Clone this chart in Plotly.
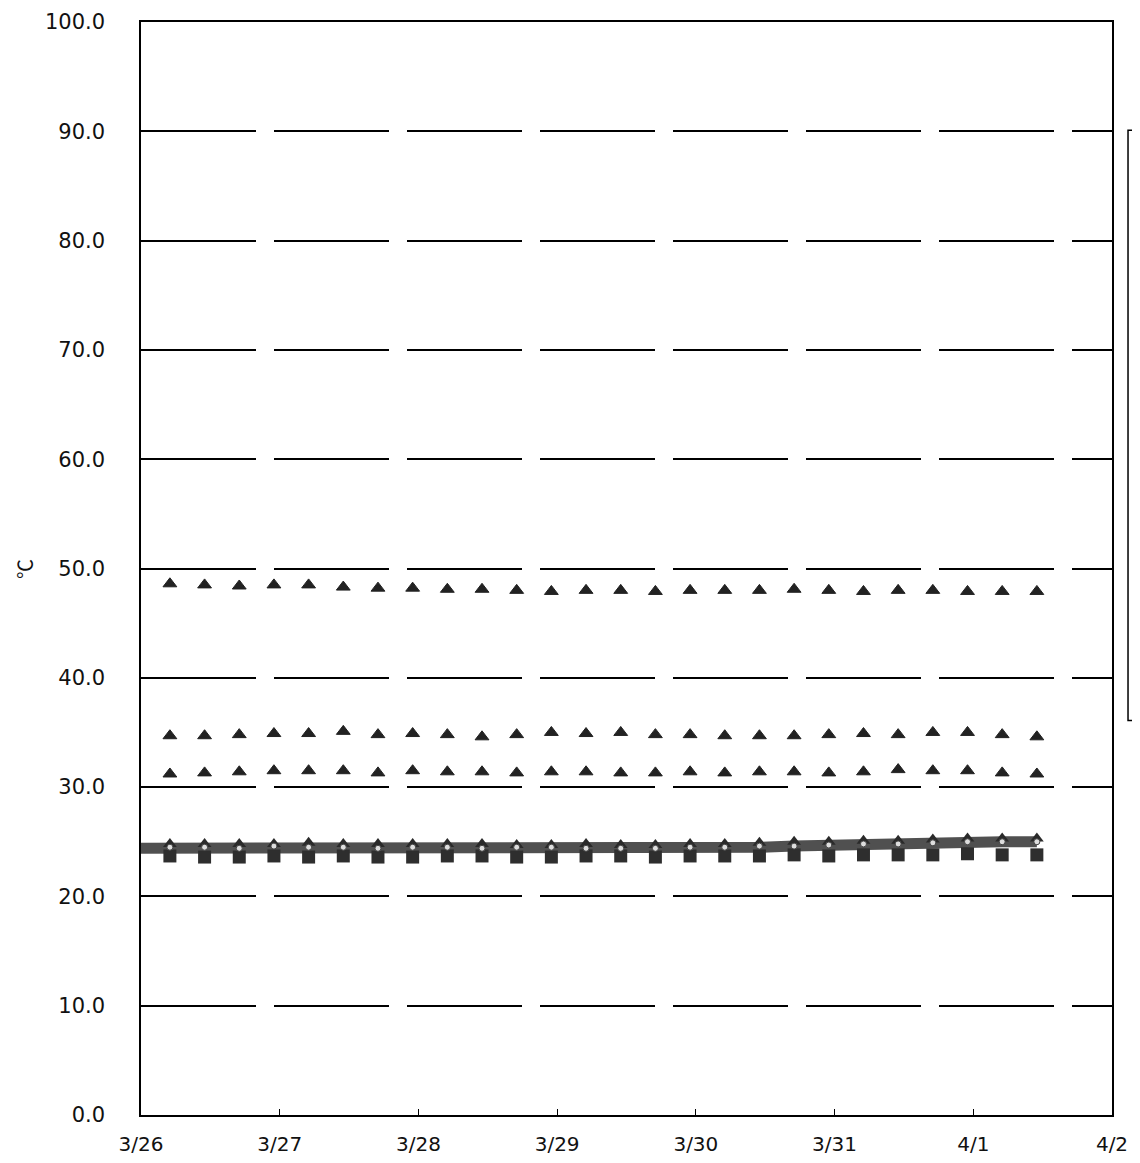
import plotly.graph_objects as go

# ---- data ----
times = [
    "2010-03-26 05:00", "2010-03-26 11:00", "2010-03-26 17:00", "2010-03-26 23:00",
    "2010-03-27 05:00", "2010-03-27 11:00", "2010-03-27 17:00", "2010-03-27 23:00",
    "2010-03-28 05:00", "2010-03-28 11:00", "2010-03-28 17:00", "2010-03-28 23:00",
    "2010-03-29 05:00", "2010-03-29 11:00", "2010-03-29 17:00", "2010-03-29 23:00",
    "2010-03-30 05:00", "2010-03-30 11:00", "2010-03-30 17:00", "2010-03-30 23:00",
    "2010-03-31 05:00", "2010-03-31 11:00", "2010-03-31 17:00", "2010-03-31 23:00",
    "2010-04-01 05:00", "2010-04-01 11:00",
]
line_times = ["2010-03-26 00:00"] + times

tri_high = [48.6, 48.5, 48.4, 48.5, 48.5, 48.3, 48.2, 48.2, 48.1, 48.1, 48.0, 47.9, 48.0,
            48.0, 47.9, 48.0, 48.0, 48.0, 48.1, 48.0, 47.9, 48.0, 48.0, 47.9, 47.9, 47.9]
tri_mid = [34.7, 34.7, 34.8, 34.9, 34.9, 35.1, 34.8, 34.9, 34.8, 34.6, 34.8, 35.0, 34.9,
           35.0, 34.8, 34.8, 34.7, 34.7, 34.7, 34.8, 34.9, 34.8, 35.0, 35.0, 34.8, 34.6]
tri_low = [31.2, 31.3, 31.4, 31.5, 31.5, 31.5, 31.3, 31.5, 31.4, 31.4, 31.3, 31.4, 31.4,
           31.3, 31.3, 31.4, 31.3, 31.4, 31.4, 31.3, 31.4, 31.6, 31.5, 31.5, 31.3, 31.2]
band_line = [24.4, 24.4, 24.5, 24.4, 24.5, 24.5, 24.4, 24.5, 24.4, 24.4, 24.5, 24.4, 24.4,
             24.4, 24.3, 24.4, 24.4, 24.5, 24.5, 24.6, 24.7, 24.7, 24.8, 24.9, 25.0, 25.0, 25.0]
band_tri = [24.8, 24.8, 24.8, 24.8, 24.9, 24.8, 24.8, 24.8, 24.8, 24.8, 24.7, 24.7, 24.8,
            24.7, 24.7, 24.8, 24.8, 24.9, 25.0, 25.0, 25.1, 25.1, 25.2, 25.3, 25.3, 25.3]
band_sq = [23.7, 23.6, 23.6, 23.7, 23.6, 23.7, 23.6, 23.6, 23.7, 23.7, 23.6, 23.6, 23.7,
           23.7, 23.6, 23.7, 23.7, 23.7, 23.8, 23.7, 23.8, 23.8, 23.8, 23.9, 23.8, 23.8]
band_circ = [24.5, 24.5, 24.4, 24.6, 24.5, 24.5, 24.4, 24.5, 24.5, 24.4, 24.5, 24.5, 24.4,
             24.4, 24.4, 24.5, 24.5, 24.6, 24.6, 24.7, 24.8, 24.8, 24.9, 25.0, 25.0, 25.0]

y_ticks = [0, 10, 20, 30, 40, 50, 60, 70, 80, 90, 100]
y_labels = ["0.0", "10.0", "20.0", "30.0", "40.0", "50.0", "60.0", "70.0", "80.0", "90.0", "100.0"]
x_ticks = ["2010-03-26", "2010-03-27", "2010-03-28", "2010-03-29",
           "2010-03-30", "2010-03-31", "2010-04-01", "2010-04-02"]
x_labels = ["3/26", "3/27", "3/28", "3/29", "3/30", "3/31", "4/1", "4/2"]

fig = go.Figure()

tri_marker = dict(symbol="triangle-up", size=12, color="#222222",
                  line=dict(color="#222222", width=1))
for vals in (tri_high, tri_mid, tri_low):
    fig.add_trace(go.Scatter(x=times, y=vals, mode="markers", marker=tri_marker,
                             showlegend=False))

fig.add_trace(go.Scatter(x=line_times, y=band_line, mode="lines",
                         line=dict(color="#505050", width=11), showlegend=False))
fig.add_trace(go.Scatter(x=times, y=band_sq, mode="markers",
                         marker=dict(symbol="square", size=13, color="#2e2e2e"),
                         showlegend=False))
fig.add_trace(go.Scatter(x=times, y=band_tri, mode="markers",
                         marker=dict(symbol="triangle-up", size=12, color="#2a2a2a"),
                         showlegend=False))
fig.add_trace(go.Scatter(x=times, y=band_circ, mode="markers",
                         marker=dict(symbol="circle", size=6, color="#dddddd",
                                     line=dict(color="#444444", width=1)),
                         showlegend=False))

yfont = dict(family="DejaVu Sans, sans-serif", size=21, color="#111111")
xfont = dict(family="DejaVu Sans, sans-serif", size=20, color="#111111")

fig.update_xaxes(
    type="date", range=["2010-03-26", "2010-04-02"],
    tickvals=x_ticks, ticktext=x_labels,
    ticks="inside", ticklen=6, tickcolor="black",
    showgrid=False, zeroline=False, automargin=False,
    showline=True, linecolor="black", linewidth=1.5, mirror=True,
    tickfont=xfont, ticklabelstandoff=10,
)
fig.update_yaxes(
    range=[0, 100], tickvals=y_ticks, ticktext=y_labels,
    showgrid=True, gridcolor="black", gridwidth=1.5, griddash="115px,18px",
    zeroline=False, ticks="", automargin=False,
    showline=True, linecolor="black", linewidth=1.5, mirror=True,
    tickfont=yfont, ticklabelstandoff=30,
)

fig.add_annotation(text="℃", xref="paper", yref="paper", x=-0.12, y=0.5,
                   xanchor="center", yanchor="middle",
                   textangle=-90, showarrow=False,
                   font=dict(family="Noto Sans CJK JP, sans-serif", size=20, color="#111111"))

# partial legend frame visible at right edge
fig.add_shape(type="rect", xref="paper", yref="paper",
              x0=1.0165, x1=1.06, y0=0.361, y1=0.901,
              line=dict(color="black", width=1.5), fillcolor="rgba(0,0,0,0)")

fig.update_layout(
    width=1140, height=1163,
    margin=dict(l=133, r=36, t=14, b=56),
    plot_bgcolor="white", paper_bgcolor="white",
    showlegend=False,
)

fig.write_html("out.html")
